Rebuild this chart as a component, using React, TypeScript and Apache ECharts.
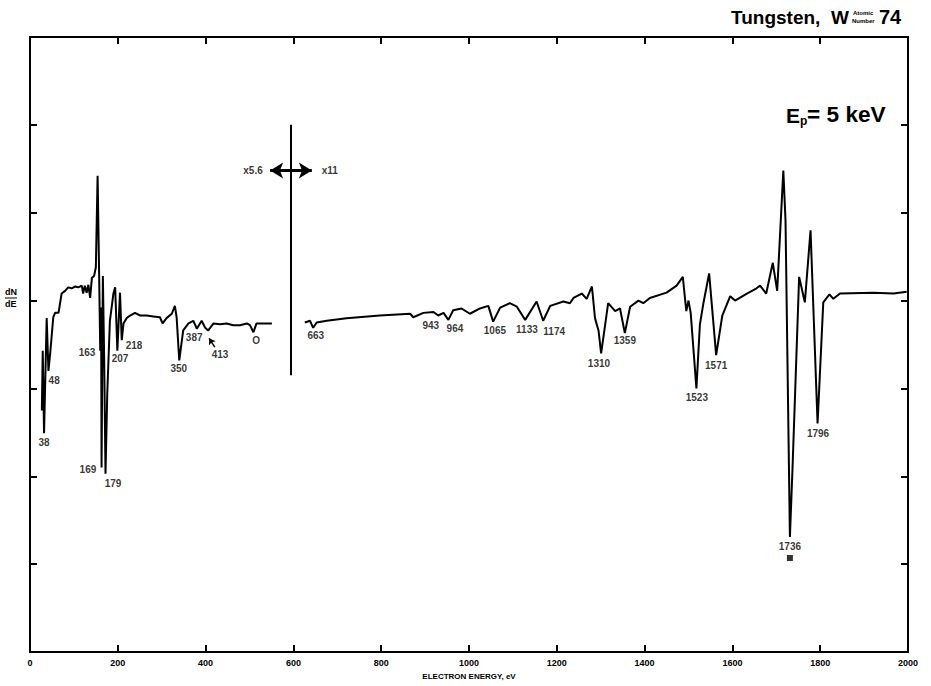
import React, { useEffect, useRef } from "react";
import * as echarts from "echarts";

// ---- data ----
const xTicks = [0, 200, 400, 600, 800, 1000, 1200, 1400, 1600, 1800, 2000];

// low-energy part (x5.6 gain)
const leftEnergy = [
  27, 29, 32, 38, 42, 46, 53, 57, 65, 72, 80, 87, 95, 103, 110, 118, 121, 125, 129, 133,
  137, 141, 146, 150, 154, 157, 160, 162, 163, 166, 169, 172, 176, 182, 190, 194, 199, 205,
  209, 213, 220, 228, 239, 251, 266, 281, 296, 302, 311, 323, 330, 334, 340, 349, 361, 372,
  380, 391, 399, 406, 418, 433, 448, 463, 478, 494, 501, 509, 516, 531, 551,
];
const leftSignal = [
  2.75, 3.43, 2.49, 3.8, 3.2, 3.4, 3.81, 3.86, 3.86, 4.08, 4.11, 4.15, 4.14, 4.16, 4.15, 4.17,
  4.08, 4.17, 4.09, 4.18, 4.03, 4.26, 4.28, 4.38, 5.42, 4.45, 3.43, 3.92, 2.1, 4.28, 3.32,
  2.03, 2.94, 3.77, 4.08, 4.15, 3.43, 4.09, 3.55, 3.74, 3.8, 3.83, 3.86, 3.83, 3.83, 3.82,
  3.81, 3.74, 3.8, 3.85, 3.94, 3.81, 3.32, 3.66, 3.74, 3.77, 3.68, 3.77, 3.69, 3.66, 3.74,
  3.73, 3.74, 3.72, 3.72, 3.74, 3.72, 3.64, 3.74, 3.74, 3.74,
];

// high-energy part (x11 gain)
const rightEnergy = [
  626, 638, 645, 653, 676, 721, 797, 866, 873, 896, 919, 930, 942, 953, 964, 983, 1002, 1025,
  1044, 1055, 1071, 1093, 1109, 1128, 1154, 1169, 1185, 1215, 1230, 1238, 1257, 1268, 1280,
  1287, 1295, 1301, 1317, 1333, 1344, 1355, 1367, 1386, 1397, 1412, 1450, 1473, 1487, 1495,
  1500, 1505, 1518, 1526, 1534, 1547, 1563, 1577, 1595, 1606, 1633, 1655, 1663, 1677, 1692,
  1702, 1716, 1721, 1731, 1737, 1752, 1765, 1778, 1794, 1807, 1821, 1830, 1845, 1921, 1967,
  1997,
];
const rightSignal = [
  3.75, 3.77, 3.69, 3.75, 3.77, 3.8, 3.83, 3.85, 3.81, 3.86, 3.87, 3.83, 3.86, 3.78, 3.89,
  3.91, 3.85, 3.91, 3.94, 3.76, 3.92, 3.97, 3.93, 3.78, 3.99, 3.77, 3.94, 3.99, 3.97, 4.03,
  4.08, 4.02, 4.16, 3.8, 3.66, 3.4, 3.97, 3.88, 3.91, 3.63, 3.93, 4.0, 3.97, 4.03, 4.09, 4.17,
  4.27, 3.88, 4.0, 3.86, 3.0, 3.73, 3.97, 4.31, 3.38, 3.83, 4.05, 4.0, 4.08, 4.14, 4.17, 4.08,
  4.43, 4.11, 5.48, 4.91, 1.31, 2.1, 4.27, 3.98, 4.8, 2.6, 3.98, 4.07, 4.02, 4.08, 4.09, 4.08,
  4.1,
];

// peak annotations
const peakTexts = [
  "38", "48", "163", "169", "179", "207", "218", "350", "387", "413", "O", "663", "943", "964",
  "1065", "1133", "1174", "1310", "1359", "1523", "1571", "1736", "1796",
];
const peakEnergy = [
  32, 55, 130, 132, 189, 205, 237, 339, 374, 433, 515, 651, 913, 968, 1059, 1132, 1194, 1296,
  1355, 1519, 1563, 1731, 1795,
];
const peakLevel = [
  2.39, 3.09, 3.41, 2.08, 1.92, 3.34, 3.49, 3.23, 3.58, 3.39, 3.55, 3.6, 3.72, 3.68, 3.66, 3.67,
  3.65, 3.28, 3.55, 2.9, 3.26, 1.2, 2.49,
];
const markerEnergy = [1731];
const markerLevel = [1.07];

// gain change divider
const dividerEnergy = 595;
const dividerLevels = [3.15, 6.0];
const gainArrowEnergy = [547, 642];
const gainArrowLevel = 5.48;
const gainTexts = ["x5.6", "x11"];
const gainTextEnergy = [508, 683];

const INK = "#000";
const FONT = "'Liberation Sans', Arial, sans-serif";
const NARROW = "'Liberation Sans Narrow', 'Liberation Sans', Arial, sans-serif";

export default function App() {
  const ref = useRef<HTMLDivElement>(null);

  useEffect(() => {
    if (!ref.current) return;
    const chart = echarts.init(ref.current, undefined, { renderer: "svg" });

    const axisCommon = {
      type: "value" as const,
      axisLine: { show: true, onZero: false, lineStyle: { color: INK, width: 2 } },
      axisTick: { show: true, inside: true, length: 7, lineStyle: { color: INK, width: 2 } },
      splitLine: { show: false },
    };

    const txt = (text: string, x: number, y: number, font: string, extra: any = {}) => ({
      type: "text",
      x,
      y,
      ...extra,
      style: { text, font, fill: INK, textAlign: "left", textVerticalAlign: "top" },
    });

    const option: any = {
      animation: false,
      backgroundColor: "#fff",
      grid: { left: 30, right: 23, top: 37, bottom: 34, containLabel: false },
      xAxis: [
        {
          ...axisCommon,
          min: xTicks[0],
          max: xTicks[xTicks.length - 1],
          interval: xTicks[1] - xTicks[0],
          position: "bottom",
          axisLabel: {
            show: true,
            fontSize: 9,
            fontWeight: "bold",
            color: INK,
            margin: 6,
            fontFamily: NARROW,
            formatter: (v: number) => String(v),
          },
          name: "ELECTRON ENERGY, eV",
          nameLocation: "middle",
          nameGap: 20,
          nameTextStyle: { fontSize: 8, fontWeight: "bold", color: INK, fontFamily: NARROW },
        },
        {
          ...axisCommon,
          min: xTicks[0],
          max: xTicks[xTicks.length - 1],
          interval: xTicks[1] - xTicks[0],
          position: "top",
          axisLabel: { show: false },
        },
      ],
      yAxis: [
        { ...axisCommon, min: 0, max: 7, interval: 1, position: "left", axisLabel: { show: false } },
        { ...axisCommon, min: 0, max: 7, interval: 1, position: "right", axisLabel: { show: false } },
      ],
      series: [
        {
          type: "line",
          data: leftEnergy.map((e, i) => [e, leftSignal[i]]),
          showSymbol: false,
          symbol: "none",
          lineStyle: { color: INK, width: 2 },
          silent: true,
          markLine: {
            silent: true,
            symbol: "none",
            label: { show: false },
            lineStyle: { color: INK, width: 2, type: "solid" },
            data: [[{ coord: [dividerEnergy, dividerLevels[0]] }, { coord: [dividerEnergy, dividerLevels[1]] }]],
          },
        },
        {
          type: "line",
          data: rightEnergy.map((e, i) => [e, rightSignal[i]]),
          showSymbol: false,
          symbol: "none",
          lineStyle: { color: INK, width: 2 },
          silent: true,
          markLine: {
            silent: true,
            symbol: ["arrow", "arrow"],
            symbolSize: [12, 13],
            label: { show: false },
            lineStyle: { color: INK, width: 3, type: "solid" },
            data: [[{ coord: [gainArrowEnergy[0], gainArrowLevel] }, { coord: [gainArrowEnergy[1], gainArrowLevel] }]],
          },
        },
        {
          type: "scatter",
          symbolSize: 0,
          silent: true,
          data: peakTexts.map((t, i) => ({ value: [peakEnergy[i], peakLevel[i]], name: t })),
          label: {
            show: true,
            position: "inside",
            formatter: "{b}",
            fontSize: 10,
            fontWeight: "bold",
            color: INK,
            fontFamily: NARROW,
          },
          markLine: {
            silent: true,
            symbol: ["none", "arrow"],
            symbolSize: 6,
            label: { show: false },
            lineStyle: { color: INK, width: 1.5, type: "solid" },
            data: [[{ coord: [421, 3.47] }, { coord: [408, 3.57] }]],
          },
        },
        {
          type: "scatter",
          symbolSize: 0,
          silent: true,
          data: gainTexts.map((t, i) => ({ value: [gainTextEnergy[i], gainArrowLevel], name: t })),
          label: {
            show: true,
            position: "inside",
            formatter: "{b}",
            fontSize: 10,
            fontWeight: "bold",
            color: INK,
            fontFamily: NARROW,
          },
        },
        {
          type: "scatter",
          symbol: "rect",
          symbolSize: 6,
          silent: true,
          itemStyle: { color: INK },
          data: markerEnergy.map((e, i) => [e, markerLevel[i]]),
        },
      ],
      graphic: [
        txt("Tungsten,  W", 731, 8, `bold 19px ${FONT}`),
        txt("Atomic", 853, 10, `bold 6px ${FONT}`),
        txt("Number", 852, 18, `bold 6px ${FONT}`),
        txt("74", 879, 7, `bold 20px ${FONT}`),
        txt("E", 786, 105, `bold 21px ${FONT}`),
        txt("p", 800, 115, `bold 12px ${FONT}`),
        txt("= 5 keV", 807, 104, `bold 22px ${FONT}`, { scaleX: 1.03 }),
        txt("dN", 5, 287, `bold 9px ${FONT}`),
        {
          type: "line",
          shape: { x1: 5, y1: 298, x2: 17, y2: 298 },
          style: { stroke: INK, lineWidth: 1 },
        },
        txt("dE", 5, 299, `bold 9px ${FONT}`),
      ],
    };

    chart.setOption(option);
    return () => chart.dispose();
  }, []);

  return (
    <div
      ref={ref}
      style={{ position: "fixed", left: 0, top: 0, width: 931, height: 686, background: "#fff" }}
    />
  );
}
